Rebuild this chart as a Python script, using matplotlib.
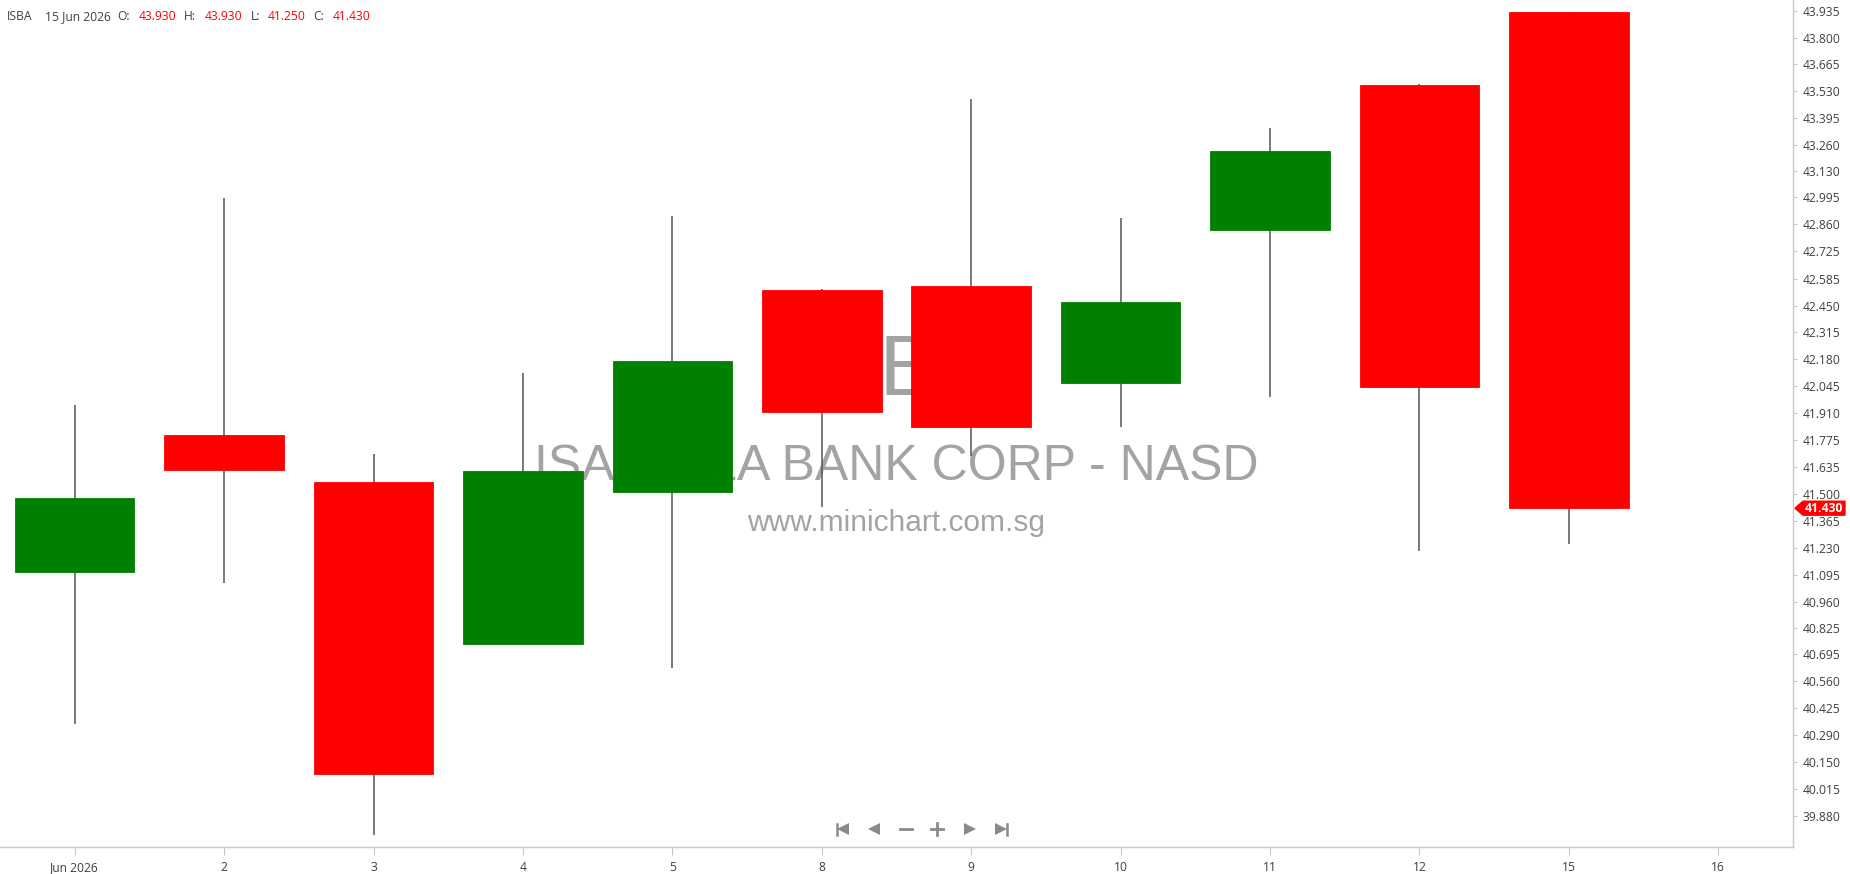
import matplotlib
matplotlib.use("Agg")
import matplotlib.pyplot as plt
from matplotlib.patches import Polygon, Rectangle
from matplotlib.transforms import blended_transform_factory

# ---------------- data ----------------
ticker = "ISBA"
last_date = "15 Jun 2026"
x_labels = ["Jun 2026", "2", "3", "4", "5", "8", "9", "10", "11", "12", "15", "16"]
opens  = [41.110, 41.800, 41.560, 40.745, 41.510, 42.530, 42.550, 42.060, 42.830, 43.560, 43.930]
highs  = [41.950, 42.990, 41.705, 42.110, 42.900, 42.535, 43.490, 42.890, 43.345, 43.565, 43.930]
lows   = [40.345, 41.055, 39.785, 40.745, 40.625, 41.435, 41.695, 41.840, 41.990, 41.215, 41.250]
closes = [41.480, 41.620, 40.090, 41.615, 42.170, 41.915, 41.840, 42.470, 43.230, 42.040, 41.430]
y_tick_labels = ["43.935", "43.800", "43.665", "43.530", "43.395", "43.260", "43.130", "42.995",
                 "42.860", "42.725", "42.585", "42.450", "42.315", "42.180", "42.045", "41.910",
                 "41.775", "41.635", "41.500", "41.365", "41.230", "41.095", "40.960", "40.825",
                 "40.695", "40.560", "40.425", "40.290", "40.150", "40.015", "39.880"]
watermark_name = "ISABELLA BANK CORP - NASD"
watermark_url = "www.minichart.com.sg"

# ---------------- style ----------------
UP = "#008000"
DOWN = "#ff0000"
WICK = "#555555"
GRID_GRAY = "#c8c8c8"
TXT = "#404040"
WM = "#a3a3a3"
FONT = ["Open Sans", "DejaVu Sans"]
W, H = 1850, 874

fig = plt.figure(figsize=(W / 100, H / 100), dpi=100)
ax = fig.add_axes([0, 27 / H, 1793 / W, 847 / H])
ax.set_xlim(-0.5, 11.5)
ax.set_ylim(39.724, 43.989)

# watermark (behind candles)
ax.text(0.5, 0.5336, ticker, transform=ax.transAxes, ha="center", va="baseline",
        fontsize=62, color=WM, family=["Liberation Sans"], zorder=1)
ax.text(0.5, 0.4333, watermark_name, transform=ax.transAxes, ha="center", va="baseline",
        fontsize=36, color=WM, family=["Liberation Sans"], zorder=1)
ax.text(0.5, 0.3731, watermark_url, transform=ax.transAxes, ha="center", va="baseline",
        fontsize=21.5, color=WM, family=["Liberation Sans"], zorder=1)

# candles
bw = 0.8
for i, (o, h, l, c) in enumerate(zip(opens, highs, lows, closes)):
    col = UP if c >= o else DOWN
    ax.vlines(i, l, h, color=WICK, lw=1.1, zorder=2)
    ax.add_patch(Rectangle((i - bw / 2, min(o, c)), bw, abs(c - o),
                           facecolor=col, edgecolor=col, lw=0.6, zorder=3))

# axes styling
for s in ["top", "left"]:
    ax.spines[s].set_visible(False)
for s in ["bottom", "right"]:
    ax.spines[s].set_color(GRID_GRAY)
    ax.spines[s].set_linewidth(1.0)
ax.yaxis.tick_right()
ax.set_yticks([float(v) for v in y_tick_labels])
ax.set_yticklabels(y_tick_labels)
ax.set_xticks(range(len(x_labels)))
ax.set_xticklabels(x_labels)
ax.tick_params(axis="y", length=3, width=0.8, color=GRID_GRAY, pad=4,
               labelsize=8.7, labelcolor=TXT)
ax.tick_params(axis="x", length=6, width=0.8, color=GRID_GRAY, pad=4,
               labelsize=8.7, labelcolor=TXT)
for lab in ax.get_xticklabels() + ax.get_yticklabels():
    lab.set_family(FONT)

# last price label on the right axis
last = closes[-1]
tr = blended_transform_factory(fig.transFigure, ax.transData)
hh = 7 / 198.6
poly = Polygon([(1795 / W, last), (1803 / W, last + hh), (1845 / W, last + hh),
                (1845 / W, last - hh), (1803 / W, last - hh)],
               closed=True, transform=tr, facecolor=DOWN, edgecolor=DOWN,
               clip_on=False, zorder=10)
fig.add_artist(poly)
fig.text(1824 / W, last, f"{last:.3f}", transform=tr, ha="center", va="center",
         fontsize=8.7, color="white", fontweight="bold", family=FONT, zorder=11)

# navigation icons
NAV = "#8a8a8a"
ny = 0.02125
nx = [842 / 1793, 874 / 1793, 906 / 1793, 937 / 1793, 970 / 1793, 1002 / 1793]
kw = dict(transform=ax.transAxes, clip_on=False, color=NAV, zorder=10)
dx = 5 / 1793
dy = 5.5 / 847
ax.plot([nx[0] - dx, nx[0] - dx], [ny - dy, ny + dy], lw=1.8, **kw)
ax.plot([nx[0] + 1.2 / 1793], [ny], marker="<", markersize=8.5, lw=0, markeredgewidth=0, **kw)
ax.plot([nx[1]], [ny], marker="<", markersize=8.5, lw=0, markeredgewidth=0, **kw)
ax.plot([nx[2] - 6 / 1793, nx[2] + 6 / 1793], [ny, ny], lw=2, **kw)
ax.plot([nx[3] - 6 / 1793, nx[3] + 6 / 1793], [ny, ny], lw=2, **kw)
ax.plot([nx[3], nx[3]], [ny - 6 / 847, ny + 6 / 847], lw=2, **kw)
ax.plot([nx[4]], [ny], marker=">", markersize=8.5, lw=0, markeredgewidth=0, **kw)
ax.plot([nx[5] - 1.2 / 1793], [ny], marker=">", markersize=8.5, lw=0, markeredgewidth=0, **kw)
ax.plot([nx[5] + dx, nx[5] + dx], [ny - dy, ny + dy], lw=1.8, **kw)

# header line
hy = 1 - 17 / H
header = [(7, ticker, TXT), (45, last_date, TXT), (117, "O:", TXT),
          (139, f"{opens[-1]:.3f}", DOWN), (184, "H:", TXT), (205, f"{highs[-1]:.3f}", DOWN),
          (251, "L:", TXT), (268, f"{lows[-1]:.3f}", DOWN), (313, "C:", TXT),
          (333, f"{closes[-1]:.3f}", DOWN)]
for px, s, colr in header:
    fig.text(px / W, hy, s, ha="left", va="center", fontsize=8.7, color=colr, family=FONT)

fig.savefig("out.png", dpi=100, facecolor="white")
